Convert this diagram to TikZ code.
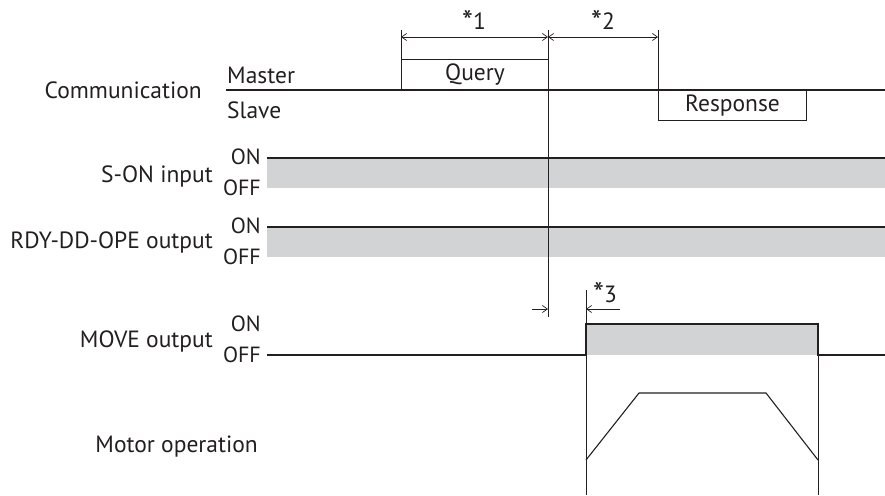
\documentclass[tikz,border=0pt]{standalone}
\usepackage{fontspec}
\setmainfont{PT Sans}
\usetikzlibrary{arrows.meta}
\definecolor{lvlgray}{RGB}{209,211,212}
\definecolor{ink}{RGB}{35,31,32}
\newcommand{\noteref}[1]{\raisebox{-2.5pt}{\fontsize{31}{31}\selectfont *}#1}

\begin{document}
\begin{tikzpicture}[x=1pt, y=-1pt,
  every node/.style={font=\fontsize{23.5}{26}\selectfont, text=ink, inner sep=0pt},
  lvl/.style={font=\fontsize{22}{24}\selectfont},
  sig/.style={draw=ink, line width=1.1pt},
  dim/.style={draw=ink, line width=0.7pt},
  >={Straight Barb[length=5pt, width=7pt]}]
	\useasboundingbox (0,0) rectangle (885,495);
	% communication
	\node[anchor=base east] (comm) at (202,98) {Communication};
	\node[anchor=base west] (master) at (227,83) {Master};
	\node[anchor=base west] (slave) at (227,118) {Slave};
	\draw[sig] (226,90) -- (885,90);
	\node[sig, anchor=south west, minimum width=147pt, minimum height=30pt] (query) at (401,90) {Query};
	\node[sig, anchor=north west, minimum width=148pt, minimum height=30pt] (resp) at (658,90) {Response};
	\draw[dim] (query.north west) -- (401,30);
	\draw[dim] (resp.north west) -- (658,30);
	\draw[dim, <->] (401,37) -- (548,37);
	\draw[dim, <->] (548,37) -- (658,37);
	\node[anchor=base] (t1) at (474,30) {\noteref{1}};
	\node[anchor=base] (t2) at (603,30) {\noteref{2}};
	% S-ON input
	\fill[lvlgray] (267,158) rectangle (885,188);
	\draw[sig] (267,158) -- (885,158);
	\node[anchor=base east] (son) at (213,182) {S-ON input};
	\node[lvl, anchor=base east] (son-on) at (261,164) {ON};
	\node[lvl, anchor=base east] (son-off) at (261,195) {OFF};
	% RDY-DD-OPE output
	\fill[lvlgray] (267,227) rectangle (885,257);
	\draw[sig] (267,227) -- (885,227);
	\node[anchor=base east] (rdy) at (213,248) {RDY-DD-OPE output};
	\node[lvl, anchor=base east] (rdy-on) at (261,233) {ON};
	\node[lvl, anchor=base east] (rdy-off) at (261,264) {OFF};
	% query end
	\draw[dim] (548,30) -- (548,317);
	% MOVE output
	\fill[lvlgray] (586,324) rectangle (818,355);
	\draw[sig] (267,355) -- (586,355) -- (586,324) -- (818,324) -- (818,355) -- (885,355);
	\node[anchor=base east] (move) at (213,347) {MOVE output};
	\node[lvl, anchor=base east] (move-on) at (261,331) {ON};
	\node[lvl, anchor=base east] (move-off) at (261,362) {OFF};
	\draw[dim, ->] (532,309) -- (548,309);
	\draw[dim, ->] (620,309) -- (586,309);
	\node[anchor=base] (t3) at (605,302) {\noteref{3}};
	\draw[dim] (586,290) -- (586,495);
	\draw[dim] (818,355) -- (818,495);
	% motor
	\node[anchor=base east] (motor) at (258,452) {Motor operation};
	\draw[sig] (586,460) -- (639,393) -- (766,393) -- (818,460);
\end{tikzpicture}
\end{document}
